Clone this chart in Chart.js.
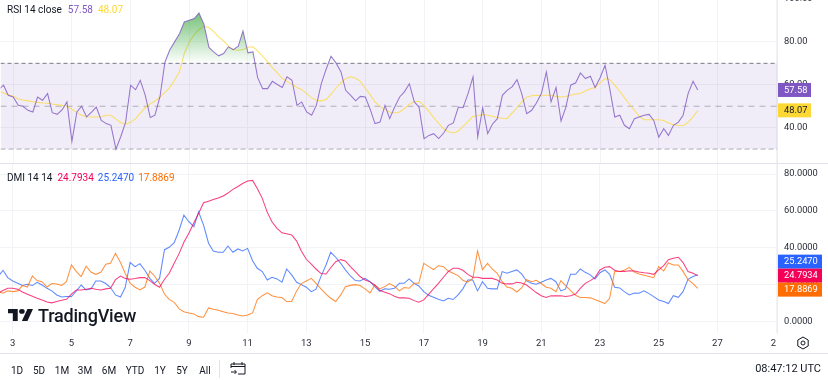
<!DOCTYPE html>
<html>
<head>
<meta charset="utf-8">
<title>RSI / DMI</title>
<script src="https://cdn.jsdelivr.net/npm/chart.js@4"></script>
<style>
html, body { margin: 0; padding: 0; background: #fff; }
body { width: 828px; height: 380px; position: relative; overflow: hidden; font-family: Roboto, sans-serif; font-size: 10px; color: #131722; }
canvas { position: absolute; left: 0; }
#rsiChart { top: -7px; }
#dmiChart { top: 164px; }
.txt { position: absolute; white-space: nowrap; line-height: 12px; }
.tab { position: absolute; top: 365px; transform: translateX(-50%); line-height: 12px; }
.rule { position: absolute; background: #e0e3eb; }
#corner { position: absolute; left: 776px; top: 334px; width: 52px; height: 19px; background: #fff; }
#brand { position: absolute; left: 38px; top: 305px; font-size: 18px; font-weight: 500; line-height: 22px; color: #131722; letter-spacing: -0.2px; }
svg { position: absolute; }
</style>
</head>
<body>
<canvas id="rsiChart" width="828" height="171"></canvas>
<canvas id="dmiChart" width="828" height="189"></canvas>

<div class="rule" style="left:0;top:163px;width:828px;height:1px"></div>
<div class="rule" style="left:0;top:353px;width:828px;height:1px"></div>
<div class="rule" style="left:219px;top:360px;width:1px;height:18px"></div>

<div class="txt" style="left:7px;top:4px">RSI 14 close<span id="lgRsi" style="color:#7e57c2;margin-left:6px"></span><span id="lgMa" style="color:#fdd835;margin-left:5px"></span></div>
<div class="txt" style="left:7px;top:172px">DMI 14 14<span id="lgAdx" style="color:#f50057;margin-left:5px"></span><span id="lgPlus" style="color:#2962ff;margin-left:4px"></span><span id="lgMinus" style="color:#ff6d00;margin-left:4px"></span></div>

<svg style="left:8px;top:309px" width="25" height="12" viewBox="0 0 36 20" preserveAspectRatio="none"><path fill="#131722" d="M14 20H7V7H0V0h14v20zM28 20h-8L28 0h8l-8 20z"/><circle fill="#131722" cx="20" cy="4" r="4"/></svg>
<div id="brand">TradingView</div>

<div id="corner"></div>
<svg style="left:796px;top:336px" width="14" height="14" viewBox="0 0 14 14" fill="none" stroke="#131722" stroke-width="1"><path d="M7 1l5.2 3v6L7 13l-5.2-3V4z"/><circle cx="7" cy="7" r="2"/></svg>

<div class="tab" style="left:17px">1D</div>
<div class="tab" style="left:39px">5D</div>
<div class="tab" style="left:62px">1M</div>
<div class="tab" style="left:85px">3M</div>
<div class="tab" style="left:109px">6M</div>
<div class="tab" style="left:135px">YTD</div>
<div class="tab" style="left:160px">1Y</div>
<div class="tab" style="left:182px">5Y</div>
<div class="tab" style="left:205px">All</div>
<svg style="left:230px;top:361px" width="16" height="15" viewBox="0 0 16 15" fill="none" stroke="#131722" stroke-width="1"><path d="M1 7V3h14v10H8M1 5.5h14M4 1v3M12 1v3M1 11h5M4.5 9l2 2-2 2"/></svg>
<div class="txt" style="right:7px;top:363px;font-size:11px">08:47:12 UTC</div>

<script>
// 4h bars, in days of the month
var days = [2.5,2.67,2.83,
    3,3.17,3.33,3.5,3.67,3.83, 4,4.17,4.33,4.5,4.67,4.83, 5,5.17,5.33,5.5,5.67,5.83, 6,6.17,6.33,6.5,6.67,6.83,
    7,7.17,7.33,7.5,7.67,7.83, 8,8.17,8.33,8.5,8.67,8.83, 9,9.17,9.33,9.5,9.67,9.83, 10,10.17,10.33,10.5,10.67,10.83,
    11,11.17,11.33,11.5,11.67,11.83, 12,12.17,12.33,12.5,12.67,12.83, 13,13.17,13.33,13.5,13.67,13.83, 14,14.17,14.33,14.5,14.67,14.83,
    15,15.17,15.33,15.5,15.67,15.83, 16,16.17,16.33,16.5,16.67,16.83, 17,17.17,17.33,17.5,17.67,17.83, 18,18.17,18.33,18.5,18.67,18.83,
    19,19.17,19.33,19.5,19.67,19.83, 20,20.17,20.33,20.5,20.67,20.83, 21,21.17,21.33,21.5,21.67,21.83, 22,22.17,22.33,22.5,22.67,22.83,
    23,23.17,23.33,23.5,23.67,23.83, 24,24.17,24.33,24.5,24.67,24.83, 25,25.17,25.33,25.5,25.67,25.83, 26,26.17,26.33];

var rsi = [57.7,59.8,55.1,54.3,50.4,50,48.1,47.3,54.3,52.8,55.9,47,46.2,48.4,52,33.6,47.3,50,45,47.3,49.6,43.4,41.9,41.1,30,36,42.6,59.8,57.7,62.1,
    55.1,44.7,45.8,54.3,70.5,76.1,80,83.9,89.3,90.1,90.9,93.5,88.2,77.4,75.3,73.5,74.6,77.7,76.4,78,85.1,74.9,75.3,63.3,58.2,58.2,61.6,60.1,
    58.7,63.7,62.1,50.4,52,47.3,45.8,50.4,60.5,67.5,73.3,70.2,66,57.4,55.1,52.5,54.6,54.3,48.4,41.9,42.6,50.4,44.2,49.6,54.3,56.7,60.5,52,49.6,34.9,
    36.4,37.2,34.9,37.5,41.1,42.2,49.6,49.3,55.9,63.7,35.6,49.3,37.2,41.6,44.2,55.1,57.4,59,62.4,55.9,46.5,48.1,51.5,55.9,66,
    52,58.7,43.1,49.3,59.8,60.9,65.5,62.9,64,58.7,63.3,69.1,58.2,45,45.8,41.1,39.5,44.2,45,45.8,46.2,43.4,35.6,39.5,36.4,41.1,42.6,45.8,55.9,61.6,57.58];

var rsiMa = [57,56.2,55.4,54.6,53.4,52.9,52.5,52.1,51.8,51.5,51.4,51,50.7,50.4,50,48.6,47,45.8,45.1,45,45,45.1,45.8,45.8,44,42.3,41.6,42.5,44.2,46.8,
    49.3,51.2,52.3,54.3,56.5,58.7,62.1,66.3,74.6,80,83.4,85.8,87.3,86.7,84.8,82.3,80.5,78.1,76.4,76.1,76.4,77.5,77.7,75.8,73.3,70.7,68,65.5,
    63,61.6,60.2,58.7,57.7,55.9,53.9,52.8,52.5,53.2,55.6,58.5,60.9,62.9,63.7,63,61.6,58.4,55.3,52,49.8,48.4,47.3,46.8,47.3,48.9,50.9,52.1,52.3,50.3,
    47.6,44.7,42,39.5,38.1,37.5,38.4,40.6,42.8,45.3,45.6,46.1,45.8,45.3,44.7,44.4,44.2,46.8,49.3,52,54.2,54.9,55.1,54.9,55.1,
    55.1,54.5,54.3,54.5,55.1,55.7,55.9,57.1,58.1,58.7,60.9,62.9,62.4,59.8,57,54,50.9,48.1,45.3,43.7,43.7,43.7,43.7,43.3,42.2,41.4,41.1,40.9,42.5,45,48.07];

var adx = [15.2,16.7,17.9,17.9,17.4,15.9,14.7,13.6,12.5,11.6,10.5,10,10.7,11.4,11.9,14.7,17,17,17.4,17.9,17.4,17,17.6,17.9,22.6,24.6,23.3,22.8,23.2,23.7,
    23.7,22.1,20.1,18.5,22.8,26.1,31.5,36.9,42.9,47.8,53.6,58.6,64.4,65.3,66.2,67,68.1,69.7,71.7,73.3,74.9,76.2,76.6,72.2,66.8,59.2,54.1,50.5,
    48.1,47.6,46.9,43.6,38.2,33.7,31.1,28.4,25.9,25.7,29.1,32.4,33.5,32.8,29.7,27,24.3,22.4,21.4,19.7,16.8,15.7,15,13.6,12.7,12.7,12.5,11.2,10.3,11.6,
    14.7,17.6,20.6,23.9,27,28.8,28.8,27.7,25.5,23.9,23.9,23.3,23.3,23.3,22.4,20.6,20.3,20.3,21.2,20.8,19.7,17.6,15.6,13.9,12.9,
    13.8,13.8,13.8,13.4,13.8,14.8,17.9,20.6,22.1,23.7,27.9,29.3,29.7,27.7,27,27.1,27.5,27.3,26.8,26.4,26.1,25.5,27.9,30.2,33.5,34.2,34.8,31.9,27,26.1,24.7934];

var diPlus = [24.3,27.7,23.7,21.9,20.6,19.4,20.1,19.4,21.2,19.7,17.9,16.5,14.3,13.2,13.4,13.4,16.5,19.7,17,17.7,21.9,21.9,20.5,18.3,14.3,13.2,18.3,31.9,29.7,31.3,
    27.7,23.3,20.6,23.3,38.9,40.2,42.7,49.6,57.7,54.1,51.4,59.5,52.3,42.4,38.2,37.5,37.5,40.9,37.5,39.3,38.2,39.6,32.9,28.8,27,22.4,23.9,23,
    21.2,28.4,25.2,21.2,19.9,18.5,16.1,17.4,24.4,30.6,37.5,34.8,31.5,27.9,24.6,22.1,21.9,23.3,21.5,18.8,16.3,17.6,17.4,17.9,20.6,20.6,23,20.6,19.2,16.1,
    14.1,13,11.9,11,12.5,11.8,14.3,17.6,22.4,22.4,16.5,21.5,17.9,17.6,17.6,27,26.1,27,27.9,25.7,21.9,20.6,20.1,21.2,22.4,
    23.3,21.5,16.5,17.6,25.5,25.5,28.4,26.6,25.2,23,26.4,27.9,25.5,18.5,18.1,16.1,14.3,15.4,15.2,16.5,15,13.4,11.6,10.7,9.6,13.9,13,16.1,22.8,24.3,25.247];

var diMinus = [16.1,15.2,16.5,16.1,16.5,19.4,18.6,24.6,22.1,21.5,18.6,20.5,20.3,19.5,21.5,30.6,27,24.3,29.9,26.6,25.5,26.6,31,31.5,36.9,31.9,26.1,20.6,18.5,17,
    18.6,27.3,24.6,20.6,14.8,11.9,10.3,6.7,5.2,4.5,4,2.5,2.2,7.2,6.5,6,5.2,4.5,4.2,3.4,2.9,3.4,4.5,11.8,13.9,15.4,13.9,13.2,
    12.9,10.7,10.7,16.5,20.5,21.9,23.3,20.6,17.6,14.7,12.5,10.7,14.3,18.8,19.5,19.9,19.4,17.6,15.4,19.7,17.6,18.8,20.5,19,16.5,18.3,17.9,20.6,20.6,31.5,
    29.7,28.1,30.2,29.7,27.3,26.1,24.8,22.3,21.2,23.3,38.2,28.1,31.5,28.4,26.1,21.5,18.6,17.9,15.9,18.1,22.6,21.5,22.3,20.5,18.5,
    17.9,16.1,22.1,19.4,16.7,14.1,12.9,12.9,12.7,11.8,10.7,9.6,12.5,27,27,27.7,29.3,26.8,25.7,25,24.3,23.7,29.7,27.3,31.7,30.6,30.6,27.1,22.6,20.5,17.8869];

var xTicks = [3,5,7,9,11,13,15,17,19,21,23,25,27,29];
var rsiTicks = [100,80,60,40];
var dmiTicks = [80,60,40,20,0];
var rsiLevels = [70,50,30];

var xMin = 2.567, xMax = 29.03;
var fontFamily = 'Roboto, sans-serif';
var gridColor = '#f2f3f7';
var textColor = '#2a2e39';

function pts(values) {
    return values.map(function(v, i) { return { x: days[i], y: v }; });
}

function level(v) {
    return [{ x: xMin, y: v }, { x: xMax, y: v }];
}

function lineSet(values, color) {
    return { data: pts(values), borderColor: color, borderWidth: 1.05, pointRadius: 0, tension: 0, fill: false };
}

function fixTicks(list) {
    return function(scale) {
        scale.ticks = list.map(function(v) { return { value: v }; });
    };
}

function xScale(showLabels) {
    return {
        type: 'linear',
        min: xMin,
        max: xMax,
        afterBuildTicks: fixTicks(xTicks),
        afterFit: function(scale) {
            scale.height = showLabels ? 20 : 0;
            scale.paddingLeft = 0;
            scale.paddingRight = 0;
        },
        border: { display: false },
        grid: { color: gridColor, drawTicks: false },
        ticks: {
            display: showLabels,
            autoSkip: false,
            maxRotation: 0,
            padding: 5,
            color: textColor,
            font: { family: fontFamily, size: 9.5 },
            callback: function(v) { return String(v); }
        }
    };
}

function yScale(min, max, list, decimals) {
    return {
        position: 'right',
        min: min,
        max: max,
        afterBuildTicks: fixTicks(list),
        afterFit: function(scale) {
            // tick padding would otherwise inset the plot area
            scale.width = 51;
            scale.paddingTop = 0;
            scale.paddingBottom = 0;
        },
        border: { color: '#e8eaf0' },
        grid: { color: gridColor, drawTicks: false },
        ticks: {
            padding: 7,
            color: textColor,
            font: { family: fontFamily, size: 9.3 },
            callback: function(v) { return v.toFixed(decimals); }
        }
    };
}

// price-scale badges, stacked around the pinned value when they would overlap
function badgePlugin(items, width, pinned) {
    return {
        id: 'badges',
        afterDraw: function(chart) {
            var y = chart.scales.y, c = chart.ctx, h = 14;
            var pos = items.map(function(it) { return y.getPixelForValue(it.value); });
            if (pinned !== null) {
                items.forEach(function(it, i) { pos[i] = pos[pinned] + (i - pinned) * h; });
            }
            items.forEach(function(it, i) {
                c.fillStyle = it.color;
                c.fillRect(y.left + 1, pos[i] - h / 2, width, h);
                c.fillStyle = it.text;
                c.font = '9.3px ' + fontFamily;
                c.textAlign = 'left';
                c.textBaseline = 'middle';
                c.fillText(it.label, y.left + 7, pos[i] + 0.5);
            });
        }
    };
}

var rsiChart = new Chart(document.getElementById('rsiChart'), {
    type: 'line',
    data: {
        datasets: [
            lineSet(rsi, 'rgba(126, 87, 194, 0.8)'),
            lineSet(rsiMa, 'rgba(253, 216, 53, 0.75)'),
            { data: level(rsiLevels[0]), borderColor: '#787b86', borderWidth: 1, borderDash: [4, 3], pointRadius: 0,
              fill: { target: 4, above: 'rgba(126, 87, 194, 0.11)', below: 'rgba(126, 87, 194, 0.11)' } },
            { data: level(rsiLevels[1]), borderColor: 'rgba(120, 123, 134, 0.55)', borderWidth: 1, borderDash: [6, 5], pointRadius: 0, fill: false },
            { data: level(rsiLevels[2]), borderColor: 'rgba(120, 123, 134, 0.6)', borderWidth: 1, borderDash: [5, 3], pointRadius: 0, fill: false }
        ]
    },
    options: {
        responsive: false,
        animation: false,
        layout: { padding: { top: 6 } },
        plugins: { legend: { display: false }, tooltip: { enabled: false } },
        scales: { x: xScale(false), y: yScale(23.3, 100, rsiTicks, 2) }
    },
    plugins: [badgePlugin([
        { value: rsi[rsi.length - 1], label: rsi[rsi.length - 1].toFixed(2), color: '#7e57c2', text: '#fff' },
        { value: rsiMa[rsiMa.length - 1], label: rsiMa[rsiMa.length - 1].toFixed(2), color: '#fdd835', text: '#131722' }
    ], 33, null)]
});

// green fill over the 70 line, faded down to nothing at the level
var sy = rsiChart.scales.y;
var green = rsiChart.ctx.createLinearGradient(0, sy.getPixelForValue(93), 0, sy.getPixelForValue(rsiLevels[0]));
green.addColorStop(0, 'rgba(76, 175, 80, 0.75)');
green.addColorStop(1, 'rgba(76, 175, 80, 0)');
rsiChart.data.datasets[0].fill = { target: { value: rsiLevels[0] }, above: green, below: 'transparent' };
rsiChart.update('none');

new Chart(document.getElementById('dmiChart'), {
    type: 'line',
    data: {
        datasets: [
            lineSet(adx, 'rgba(245, 0, 87, 0.75)'),
            lineSet(diMinus, 'rgba(255, 109, 0, 0.75)'),
            lineSet(diPlus, 'rgba(41, 98, 255, 0.75)')
        ]
    },
    options: {
        responsive: false,
        animation: false,
        plugins: { legend: { display: false }, tooltip: { enabled: false } },
        scales: { x: xScale(true), y: yScale(-6.4, 85.5, dmiTicks, 4) }
    },
    plugins: [badgePlugin([
        { value: diPlus[diPlus.length - 1], label: diPlus[diPlus.length - 1].toFixed(4), color: '#2962ff', text: '#fff' },
        { value: adx[adx.length - 1], label: adx[adx.length - 1].toFixed(4), color: '#f50057', text: '#fff' },
        { value: diMinus[diMinus.length - 1], label: diMinus[diMinus.length - 1].toFixed(4), color: '#ff6d00', text: '#fff' }
    ], 44, 1)]
});

document.getElementById('lgRsi').textContent = rsi[rsi.length - 1].toFixed(2);
document.getElementById('lgMa').textContent = rsiMa[rsiMa.length - 1].toFixed(2);
document.getElementById('lgAdx').textContent = adx[adx.length - 1].toFixed(4);
document.getElementById('lgPlus').textContent = diPlus[diPlus.length - 1].toFixed(4);
document.getElementById('lgMinus').textContent = diMinus[diMinus.length - 1].toFixed(4);
</script>
</body>
</html>
